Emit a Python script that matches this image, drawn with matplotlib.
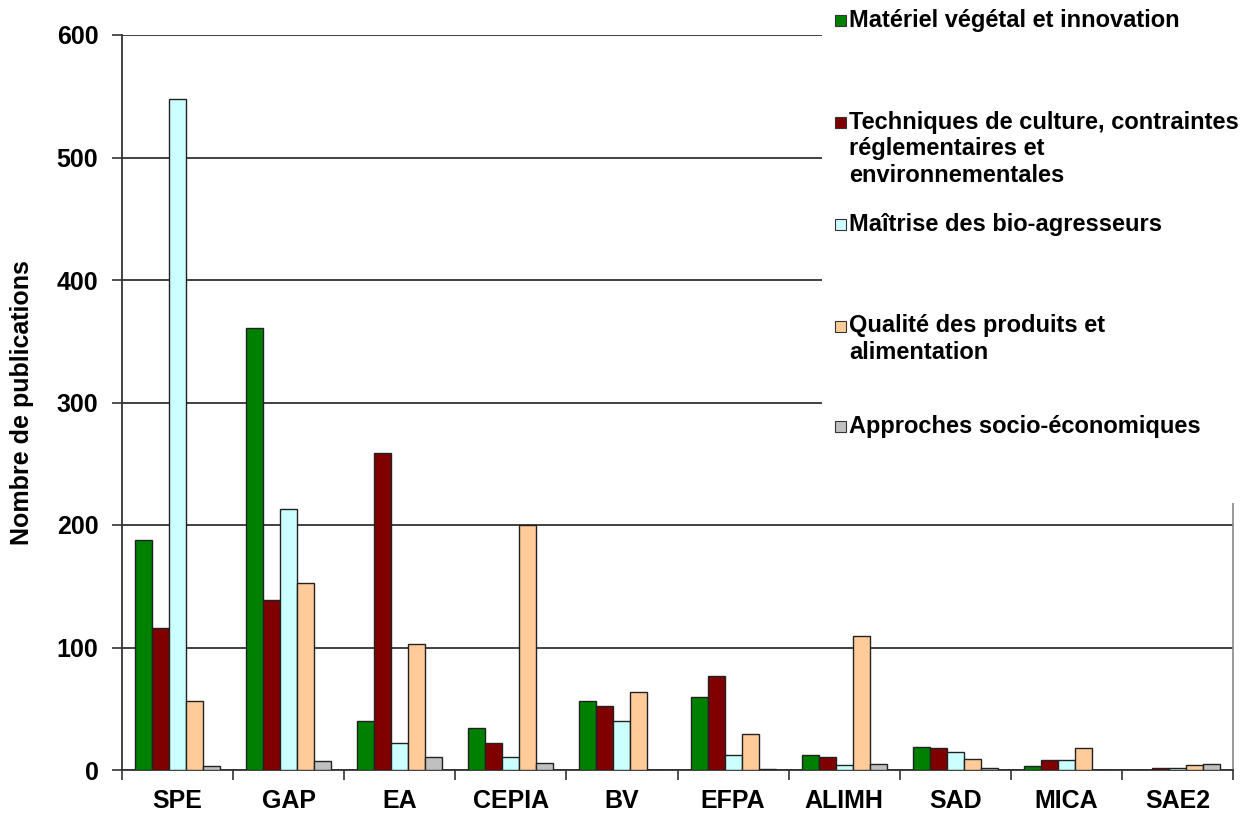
import matplotlib
matplotlib.use("Agg")
import matplotlib.pyplot as plt
import numpy as np
from matplotlib.patches import Rectangle

categories = ["SPE", "GAP", "EA", "CEPIA", "BV", "EFPA", "ALIMH", "SAD", "MICA", "SAE2"]
series_names = [
    "Matériel végétal et innovation",
    "Techniques de culture, contraintes\nréglementaires et\nenvironnementales",
    "Maîtrise des bio-agresseurs",
    "Qualité des produits et\nalimentation",
    "Approches socio-économiques",
]
materiel = [188, 361, 40, 34, 56, 60, 12, 19, 3, 0]
techniques = [116, 139, 259, 22, 52, 77, 11, 18, 8, 2]
maitrise = [548, 213, 22, 11, 40, 12, 4, 15, 8, 2]
qualite = [56, 153, 103, 200, 64, 29, 109, 9, 18, 4]
socio = [3, 7, 11, 6, 0, 1, 5, 2, 0, 5]
yticks = [0, 100, 200, 300, 400, 500, 600]

series = [materiel, techniques, maitrise, qualite, socio]
colors = ["#008000", "#800000", "#CCFFFF", "#FFCC99", "#C0C0C0"]

plt.rcParams['font.family'] = ['Liberation Sans', 'DejaVu Sans']

W, H = 1252, 814
fig = plt.figure(figsize=(W / 100, H / 100), dpi=100)
ax = fig.add_axes([122 / W, 1 - 770 / H, (1233 - 122) / W, (770 - 35) / H])

x = np.arange(len(categories))
bw = 0.153
for i, (vals, c) in enumerate(zip(series, colors)):
    ax.bar(x + (i - 2) * bw, vals, width=bw, color=c, edgecolor="#222222",
           linewidth=1.0, zorder=3)

ax.set_xlim(-0.5, len(categories) - 0.5)
ax.set_ylim(0, 600)
ax.set_yticks(yticks)
ax.set_yticklabels([str(t) for t in yticks], fontsize=18, fontweight="bold")
ax.set_xticks(x)
ax.set_xticklabels(categories, fontsize=18, fontweight="bold")
ax.set_xticks(np.arange(-0.5, len(categories) + 0.5, 1), minor=True)
ax.tick_params(axis="x", which="major", length=0, pad=14)
ax.tick_params(axis="x", which="minor", length=7, width=1.2, direction="out", color="#333333")
ax.tick_params(axis="y", length=7, width=1.2, direction="out", color="#333333", pad=10)
ax.yaxis.grid(True, color="#333333", linewidth=1.3, zorder=0)
ax.set_axisbelow(True)
ax.spines["top"].set_visible(False)
ax.spines["right"].set_color("#888888")
ax.spines["right"].set_linewidth(1.2)
for s in ["left", "bottom"]:
    ax.spines[s].set_color("#333333")
    ax.spines[s].set_linewidth(1.3)

ax.set_ylabel("Nombre de publications", fontsize=18, fontweight="bold")
ax.yaxis.set_label_coords((34 - 122) / (1233 - 122), 0.5)

# Legend area (white box covering top-right of plot)
fig.patches.append(Rectangle((822 / W, 1 - 503 / H), 1 - 822 / W, 503 / H,
                             transform=fig.transFigure, facecolor="white",
                             edgecolor="none", zorder=10))
first_line_y = [20, 122, 224, 326, 426]
line_h = 27
for name, c, yy in zip(series_names, colors, first_line_y):
    fig.patches.append(Rectangle((835 / W, 1 - (yy + 6) / H), 11 / W, 11 / H,
                                 transform=fig.transFigure, facecolor=c,
                                 edgecolor="#333333", linewidth=0.8, zorder=11))
    for k, line in enumerate(name.split("\n")):
        fig.text(849 / W, 1 - (yy + k * line_h) / H, line, fontsize=17,
                 fontweight="bold", va="center", ha="left", zorder=12)

fig.savefig("out.png", dpi=100, facecolor="white")
